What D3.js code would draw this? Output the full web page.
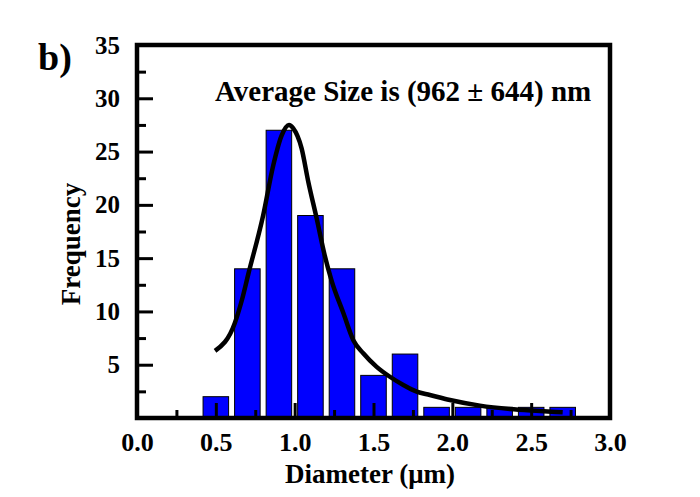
<!DOCTYPE html>
<html>
<head>
<meta charset="utf-8">
<script src="https://cdn.jsdelivr.net/npm/d3@7"></script>
<style>
  body { margin: 0; background: #fff; }
  text { font-family: "Liberation Serif", "Times New Roman", serif; font-weight: bold; fill: #000; }
  .axis path { display: none; }
  .axis line { stroke: #000; stroke-width: 3px; }
  .axis text { font-family: "Liberation Serif", "Times New Roman", serif; font-weight: bold; }
</style>
</head>
<body>
<svg id="chart" width="700" height="497"></svg>
<script>
// histogram bins (centre in um) and counts
var binCenters = [0.5, 0.7, 0.9, 1.1, 1.3, 1.5, 1.7, 1.9, 2.1, 2.3, 2.5, 2.7];
var counts = [2, 14, 27, 19, 14, 4, 6, 1, 1, 1, 1, 1];

// log-normal fit curve
var fitX = [0.495, 0.62, 0.664, 0.706, 0.80, 0.864, 0.917, 0.964, 0.99, 1.044, 1.086, 1.14, 1.19, 1.234,
            1.31, 1.372, 1.435, 1.52, 1.604, 1.689, 1.774, 1.858, 1.985, 2.175, 2.365, 2.555, 2.70];
var fitY = [6.3, 8.9, 11.0, 13.5, 19.0, 23.7, 26.5, 27.5, 27.2, 25.3, 22.2, 18.7, 15.3, 12.9,
            9.8, 7.3, 6.07, 4.8, 3.87, 3.1, 2.47, 2.16, 1.69, 1.16, 0.84, 0.66, 0.53];

var xTicks = [0.0, 0.5, 1.0, 1.5, 2.0, 2.5, 3.0];
var xMinor = [0.25, 0.75, 1.25, 1.75, 2.25, 2.75];
var yTicks = [5, 10, 15, 20, 25, 30, 35];
var yMinor = [2.5, 7.5, 12.5, 17.5, 22.5, 27.5, 32.5];

var svg = d3.select("#chart"),
    margin = {top: 45, right: 90, bottom: 79, left: 137},
    width = +svg.attr("width") - margin.left - margin.right,
    height = +svg.attr("height") - margin.top - margin.bottom;

var g = svg.append("g")
    .attr("transform", "translate(" + margin.left + "," + margin.top + ")");

var x = d3.scaleLinear().domain([0, 3]).range([0, width]);
var y = d3.scaleLinear().domain([0, 35]).range([height, 0]);

var binWidth = 0.162;

// bars
g.selectAll(".bar")
    .data(binCenters)
    .enter()
    .append("rect")
    .attr("class", "bar")
    .attr("x", function(d) { return x(d - binWidth / 2); })
    .attr("width", function(d) { return x(d + binWidth / 2) - x(d - binWidth / 2); })
    .attr("y", function(d, i) { return y(counts[i]); })
    .attr("height", function(d, i) { return y(0) - y(counts[i]); })
    .attr("fill", "#0000ff")
    .attr("stroke", "#000")
    .attr("stroke-width", 1);

// axes, ticks pointing inwards
var xAxisCall = d3.axisBottom(x).tickValues(xTicks).tickSize(-15).tickPadding(15)
    .tickFormat(d3.format(".1f"));
var xMinorCall = d3.axisBottom(x).tickValues(xMinor).tickSize(-8).tickFormat("");
var yAxisCall = d3.axisLeft(y).tickValues(yTicks).tickSize(-16).tickPadding(17);
var yMinorCall = d3.axisLeft(y).tickValues(yMinor).tickSize(-9).tickFormat("");

g.append("g")
    .attr("class", "x axis")
    .attr("transform", "translate(0," + height + ")")
    .attr("font-size", 26)
    .call(xAxisCall);

g.append("g")
    .attr("class", "x axis")
    .attr("transform", "translate(0," + height + ")")
    .call(xMinorCall);

g.append("g")
    .attr("class", "y axis")
    .attr("font-size", 25)
    .call(yAxisCall);

g.append("g")
    .attr("class", "y axis")
    .call(yMinorCall);

svg.selectAll(".x.axis text").attr("font-size", 26);
svg.selectAll(".y.axis text").attr("font-size", 25);

// fit curve
var line = d3.line()
    .x(function(d) { return x(d); })
    .y(function(d, i) { return y(fitY[i]); })
    .curve(d3.curveMonotoneX);

g.append("path")
    .datum(fitX)
    .attr("d", line)
    .attr("fill", "none")
    .attr("stroke", "#000")
    .attr("stroke-width", 4.5);

// frame
g.append("rect")
    .attr("width", width)
    .attr("height", height)
    .attr("fill", "none")
    .attr("stroke", "#000")
    .attr("stroke-width", 4.5);

// labels
svg.append("text")
    .attr("x", 370)
    .attr("y", 483)
    .attr("text-anchor", "middle")
    .attr("font-size", 27)
    .text("Diameter (\u03bcm)");

svg.append("text")
    .attr("transform", "translate(80,244) rotate(-90)")
    .attr("text-anchor", "middle")
    .attr("font-size", 27)
    .text("Frequency");

svg.append("text")
    .attr("x", 215)
    .attr("y", 101)
    .attr("font-size", 29)
    .text("Average Size is (962 \u00b1 644) nm");

svg.append("text")
    .attr("x", 38)
    .attr("y", 70)
    .attr("font-size", 38)
    .text("b)");
</script>
</body>
</html>
